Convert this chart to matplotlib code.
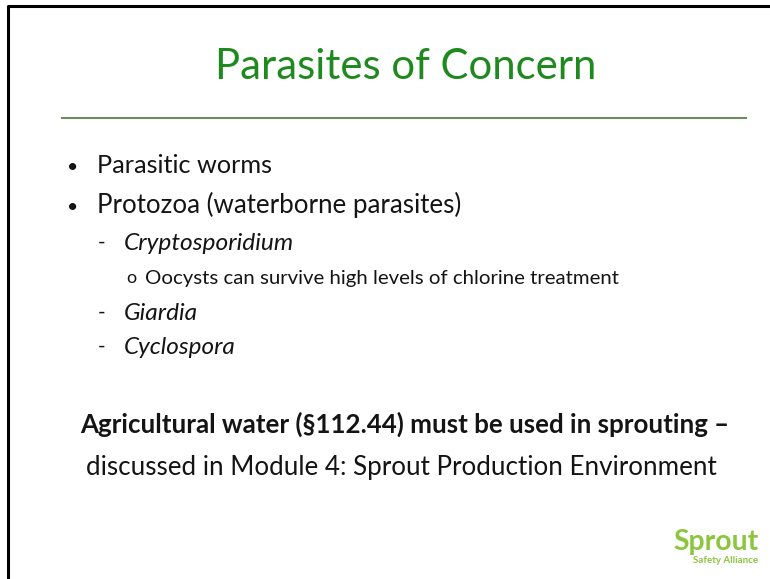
import matplotlib.pyplot as plt

plt.rcParams['font.family'] = ['Lato', 'DejaVu Sans']

title = "Parasites of Concern"
bullets = ["Parasitic worms", "Protozoa (waterborne parasites)"]
organisms = ["Cryptosporidium", "Giardia", "Cyclospora"]
note = "Oocysts can survive high levels of chlorine treatment"
footer_bold = "Agricultural water (\u00a7112.44) must be used in sprouting \u2013"
footer = "discussed in Module 4: Sprout Production Environment"
logo = ["Sprout", "Safety Alliance"]

fig = plt.figure(figsize=(7.7, 5.79), dpi=100)
ax = fig.add_axes([0, 0, 1, 1])
ax.set_xlim(0, 770)
ax.set_ylim(579, 0)
ax.axis('off')
renderer = fig.canvas.get_renderer()


def put(x0, x1, y, s, size, **kw):
    # place text on its baseline and stretch the size so it spans x0..x1
    t = ax.text(x0, y, s, fontsize=size, va='baseline', ha='left', **kw)
    w = t.get_window_extent(renderer).width
    t.set_fontsize(size * (x1 - x0) / w)
    return t


# frame of the slide
ax.plot([8, 8, 770], [579, 6, 6], color='black', lw=2.2, solid_capstyle='butt')

# title and rule
put(215, 597, 79, title, 34, color='#1e8a1e')
ax.plot([62, 746], [118, 118], color='#6f8a64', lw=1.5)

# level 1 bullets
body = '#141414'
put(97, 272, 173, bullets[0], 18, color=body)
put(97, 460, 213, bullets[1], 18, color=body)
for y in [173, 213]:
    ax.text(73, y - 6, "\u2022", fontsize=14, ha='center', va='center', color=body)

# organisms with dash and the note under the first
org_y = [250, 320, 354]
org_x1 = [294, 198, 236]
for name, y, x1 in zip(organisms, org_y, org_x1):
    ax.text(102, y - 7, "-", fontsize=15, ha='center', va='center', color=body)
    put(124, x1, y, name, 18, color=body, style='italic')
ax.text(131, 283 - 5, "o", fontsize=13, ha='center', va='center', color=body)
put(145, 619, 284, note, 15, color=body)

# closing statement
put(80, 728, 433, footer_bold, 18, color=body, fontweight='bold')
put(86, 713, 475, footer, 18, color=body)

# logo
put(673, 758, 550, logo[0], 18, color='#8cc63f', fontweight='bold')
put(693, 758, 563, logo[1], 7, color='#8cc63f', fontweight='bold')

fig.savefig('out.png', dpi=100)
